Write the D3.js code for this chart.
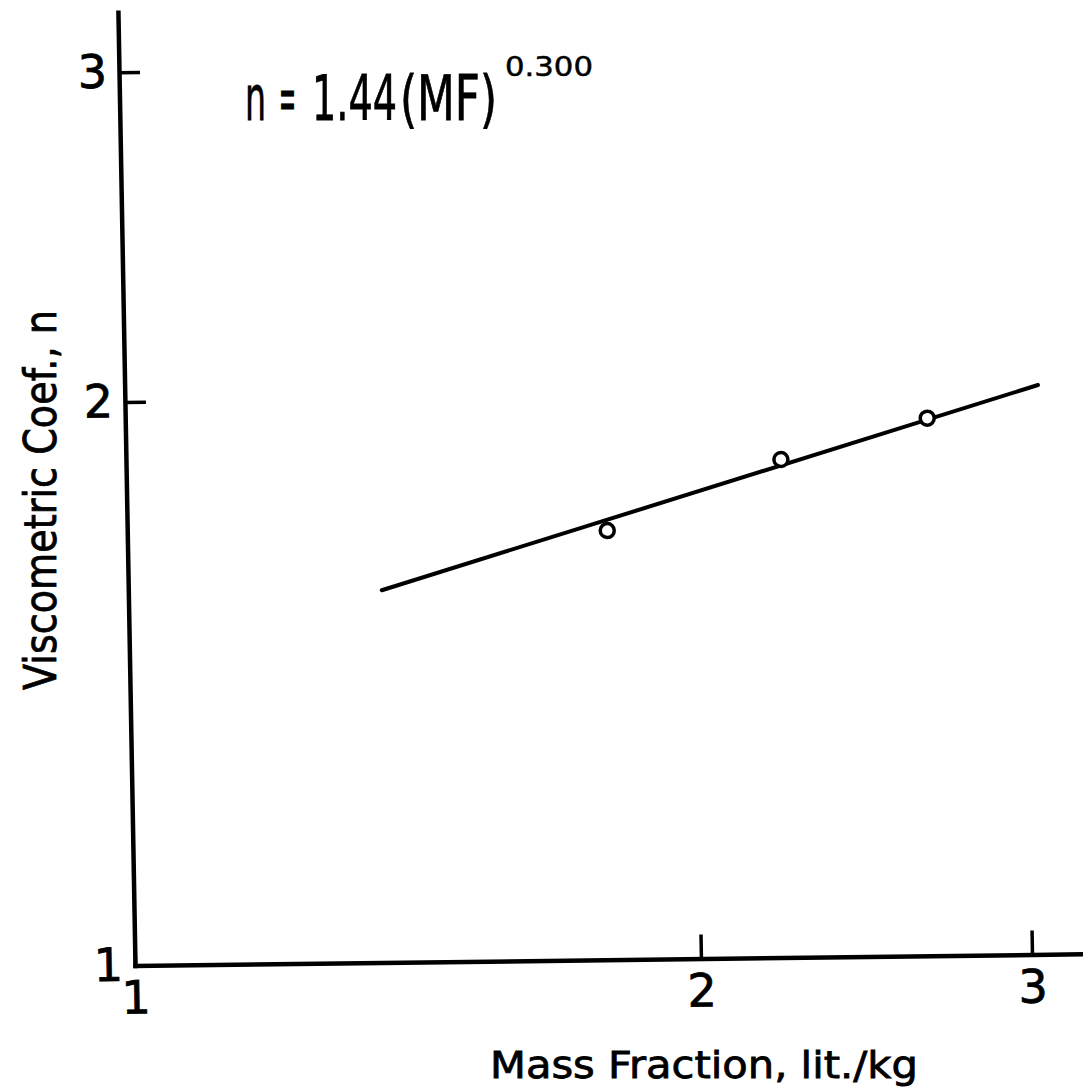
<!DOCTYPE html>
<html>
<head>
<meta charset="utf-8">
<script src="https://cdn.jsdelivr.net/npm/d3@7"></script>
<style>
  body { margin: 0; background: #fff; }
  svg { display: block; }
  text { font-family: "DejaVu Sans", "Liberation Sans", sans-serif; fill: #000; }
  .ink { stroke: #000; stroke-width: 0.8px; }
</style>
</head>
<body>
<svg id="chart" width="1083" height="1088"></svg>
<script>
// Log-log plot: viscometric coefficient vs. mass fraction
const xTickValues = [1, 2, 3];
const yTickValues = [1, 2, 3];
const massFraction = [1.80, 2.23, 2.67];     // lit./kg
const viscCoef     = [1.695, 1.845, 1.937];  // n
const fitCoef = 1.44;
const fitExp = 0.300;
const fitRange = [1.364, 3.06];              // MF span of the fitted line
const xAxisEnd = 3.2;
const yAxisEnd = 3.23;

const svg = d3.select("#chart");

const xDecade = 1880, yDecade = 1872;
const x = d3.scaleLog().domain([1, xAxisEnd]).range([0, xDecade * Math.log10(xAxisEnd)]);
const y = d3.scaleLog().domain([1, yAxisEnd]).range([0, -yDecade * Math.log10(yAxisEnd)]);

// plot frame (slightly skewed like the hand-drafted original sheet)
const g = svg.append("g")
  .attr("transform", "translate(135,965.5) matrix(1,-0.0123,0.0179,1,0,0)");

const xAxis = d3.axisBottom(x)
  .tickValues(xTickValues)
  .tickFormat(d3.format("d"))
  .tickSizeInner(-24).tickSizeOuter(0).tickPadding(15);
const yAxis = d3.axisLeft(y)
  .tickValues(yTickValues)
  .tickFormat(d3.format("d"))
  .tickSizeInner(-21).tickSizeOuter(0).tickPadding(12);

const gx = g.append("g").call(xAxis);
const gy = g.append("g").call(yAxis);

[gx, gy].forEach(a => {
  a.attr("font-family", null).attr("font-size", null);
  a.select(".domain").attr("stroke", "#000").attr("stroke-width", 4.5).attr("stroke-linecap", "square");
  a.selectAll(".tick line").attr("stroke", "#000").attr("stroke-width", 3.5);
  a.selectAll(".tick text")
    .attr("class", "ink")
    .style("font-size", "46px")
    .attr("fill", "#000");
});
gx.selectAll(".tick text").attr("dy", "0.72em");

// fitted power law n = 1.44 (MF)^0.300
const fitPts = fitRange.map(m => [m, fitCoef * Math.pow(m, fitExp)]);
g.append("path")
  .datum(fitPts)
  .attr("fill", "none")
  .attr("stroke", "#000")
  .attr("stroke-width", 4)
  .attr("stroke-linecap", "round")
  .attr("d", d3.line().x(d => x(d[0])).y(d => y(d[1])));

// measured points
g.selectAll("circle.pt")
  .data(massFraction.map((m, i) => [m, viscCoef[i]]))
  .join("circle")
  .attr("class", "pt")
  .attr("cx", d => x(d[0]))
  .attr("cy", d => y(d[1]))
  .attr("r", 7)
  .attr("fill", "#fff")
  .attr("stroke", "#000")
  .attr("stroke-width", 3.5);

// narrow lettering: draw text, then squeeze it horizontally to a target width
function letter(parent, str, px, py, size, width, rotate) {
  const t = parent.append("text")
    .attr("class", "ink")
    .style("font-size", size + "px")
    .text(str);
  const natural = t.node().getComputedTextLength();
  const sx = width / natural;
  t.attr("transform", `translate(${px},${py})${rotate ? ` rotate(${rotate})` : ""} scale(${sx},1)`);
  return t;
}

// axis titles
letter(svg, "Mass Fraction, lit./kg", 490, 1078, 38, 428);
letter(svg, "Viscometric Coef., n", 56, 690, 44, 380, -90);

// equation n = 1.44 (MF)^0.300, set piece by piece
const eqParts = [
  { t: "n",    x: 245, w: 21 },
  { t: "=",    x: 279, w: 17 },
  { t: "1.44", x: 312, w: 85 },
  { t: "(MF)", x: 400, w: 97 }
];
eqParts.forEach(p => letter(svg, p.t, p.x, 120, 62, p.w));
letter(svg, "0.300", 505, 76, 27, 88).style("stroke-width", "0.5px");
</script>
</body>
</html>
